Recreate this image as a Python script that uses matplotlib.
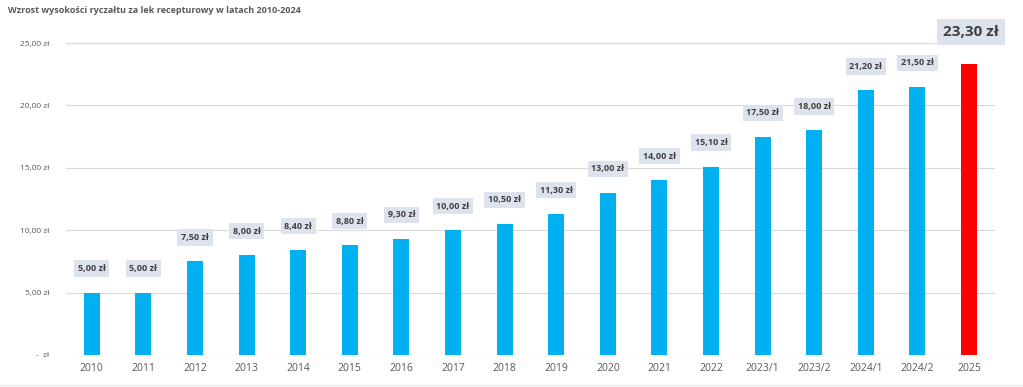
import matplotlib.pyplot as plt

categories = ["2010", "2011", "2012", "2013", "2014", "2015", "2016", "2017", "2018",
              "2019", "2020", "2021", "2022", "2023/1", "2023/2", "2024/1", "2024/2", "2025"]
values = [5.00, 5.00, 7.50, 8.00, 8.40, 8.80, 9.30, 10.00, 10.50,
          11.30, 13.00, 14.00, 15.10, 17.50, 18.00, 21.20, 21.50, 23.30]
y_ticks = [0, 5, 10, 15, 20, 25]
y_tick_labels = ["-  zł", "5,00 zł", "10,00 zł", "15,00 zł", "20,00 zł", "25,00 zł"]
title = "Wzrost wysokości ryczałtu za lek recepturowy w latach 2010-2024"

BLUE = "#00B0F0"
RED = "#FF0000"
GRAY = "#595959"
BOX = "#DDE3EC"


def money(v):
    return f"{v:.2f}".replace(".", ",") + " zł"


plt.rcParams["font.family"] = ["Open Sans", "DejaVu Sans"]

fig = plt.figure(figsize=(10.23, 3.87), dpi=100)
ax = fig.add_axes([0.0645, 0.0827, 0.908, 0.806])

x = list(range(len(categories)))
colors = [BLUE] * (len(values) - 1) + [RED]
ax.bar(x, values, width=0.31, color=colors, zorder=3)

for i, v in enumerate(values):
    last = i == len(values) - 1
    ax.annotate(money(v), (i, v), xytext=(2 if last else 0, 32 if last else 24),
                textcoords="offset pixels",
                ha="center", va="center", fontsize=11 if last else 6.5,
                fontweight="bold", color="#404040",
                bbox=dict(boxstyle="square,pad=0.4", fc=BOX, ec="none"),
                annotation_clip=False, zorder=4)

ax.set_xlim(-0.5, len(categories) - 0.5)
ax.set_ylim(0, 25)
ax.set_yticks(y_ticks)
ax.set_yticklabels(y_tick_labels)
ax.set_xticks(x)
ax.set_xticklabels(categories)
ax.tick_params(axis="y", length=0, labelsize=6, labelcolor=GRAY, pad=12)
ax.tick_params(axis="x", length=0, labelsize=7.5, labelcolor=GRAY, pad=6)
ax.grid(axis="y", color="#D9D9D9", linewidth=0.8, zorder=0)
for s in ax.spines.values():
    s.set_visible(False)

fig.text(0.008, 0.972, title, fontsize=6.5, fontweight="bold", color=GRAY, va="center")
fig.add_artist(plt.Line2D([0, 1], [0.005, 0.005], color="#E6E6E6", linewidth=1))

fig.savefig("out.png", dpi=100)
